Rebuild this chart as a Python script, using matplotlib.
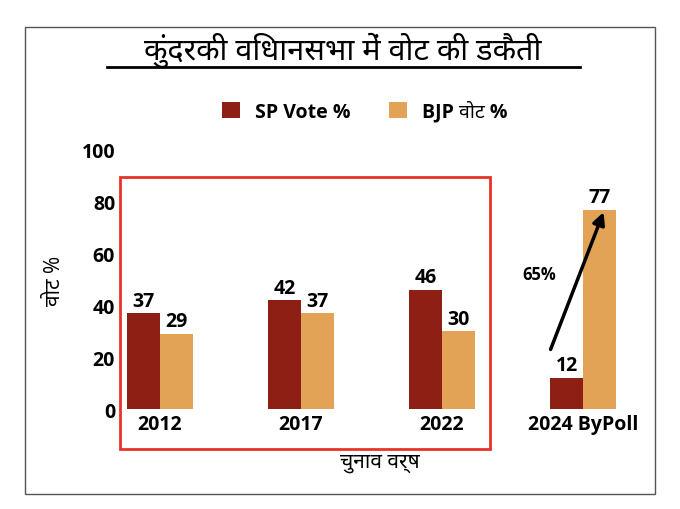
import matplotlib
matplotlib.use("Agg")
import matplotlib.pyplot as plt
from matplotlib.patches import Rectangle
from matplotlib import font_manager

names = {f.name for f in font_manager.fontManager.ttflist}
fam = [f for f in ['Open Sans', 'Noto Sans Devanagari', 'Lohit Devanagari', 'Noto Sans', 'DejaVu Sans'] if f in names]
plt.rcParams['font.family'] = fam

categories = ['2012', '2017', '2022', '2024 ByPoll']
sp = [37, 42, 46, 12]
bjp = [29, 37, 30, 77]
yticks = [0, 20, 40, 60, 80, 100]
title = 'कुंदरकी विधानसभा में वोट की डकैती'

W, H = 680, 510
fig = plt.figure(figsize=(6.8, 5.1), dpi=100)
fig.patches.append(Rectangle((25/W, 1-495/H), 630/W, 467/H, transform=fig.transFigure,
                             fill=False, edgecolor='#555555', lw=1))
ax = fig.add_axes([120/W, 1-410/H, 520/W, 259/H])
ax.set_xlim(-40/141, 480/141)
ax.set_ylim(0, 100)
bw = 0.234
c_sp, c_bjp = '#8E1F15', '#E2A356'
x = list(range(len(categories)))
b1 = ax.bar([i - bw/2 for i in x], sp, bw, color=c_sp, label='SP Vote %')
b2 = ax.bar([i + bw/2 for i in x], bjp, bw, color=c_bjp, label='BJP वोट %')
for bars, vals in ((b1, sp), (b2, bjp)):
    for r, v in zip(bars, vals):
        ax.text(r.get_x()+r.get_width()/2, v+1, str(v), ha='center', va='bottom',
                fontsize=14, fontweight='bold')
for s in ax.spines.values():
    s.set_visible(False)
ax.tick_params(length=0, labelsize=14)
ax.set_yticks(yticks)
ax.set_xticks(x)
ax.set_xticklabels(categories, fontweight='bold')
for t in ax.get_yticklabels():
    t.set_fontweight('bold')
ax.set_ylabel('वोट %', fontsize=15, labelpad=12)
ax.set_xlabel('चुनाव वर्ष', fontsize=15, labelpad=12)
ax.annotate('', xy=(3 - bw/2 + 0.27, 77), xytext=(3 - bw/2 - 0.12, 22),
            arrowprops=dict(arrowstyle='-|>', color='black', lw=2.5, mutation_scale=18))
ax.text(2.69, 52, '65%', fontsize=12, fontweight='bold', ha='center', va='center')

fig.patches.append(Rectangle((120/W, 1-450/H), 370/W, 272/H, transform=fig.transFigure,
                             fill=False, edgecolor='#E8322A', lw=2))
fig.text(343/W, 1-50/H, title, ha='center', va='center', fontsize=22, fontweight='bold')
fig.lines.append(plt.Line2D([107/W, 580/W], [1-68/H, 1-68/H], transform=fig.transFigure,
                            color='black', lw=2))
fig.legend(handles=[b1, b2], loc='center', bbox_to_anchor=(365/W, 1-112/H), ncol=2,
           frameon=False, handlelength=0.9, handleheight=0.9,
           columnspacing=2, prop={'weight': 'bold', 'size': 14})
fig.savefig('out.png', dpi=100)
